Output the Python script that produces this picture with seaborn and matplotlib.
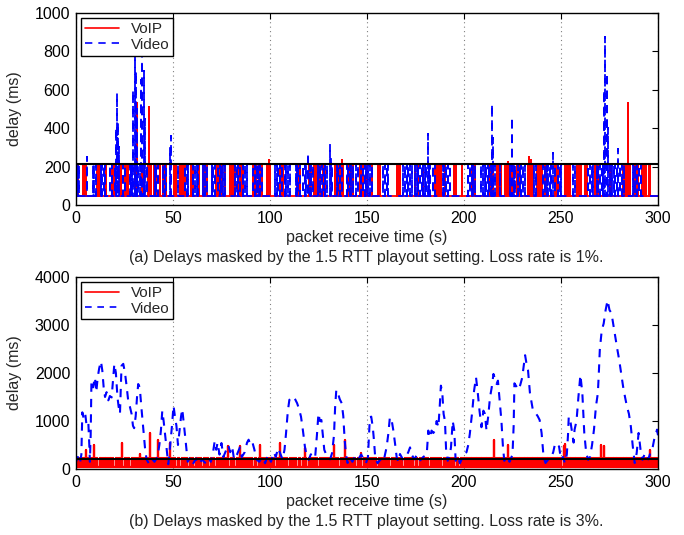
import numpy as np
import pandas as pd
import matplotlib
matplotlib.use("Agg")
import matplotlib.pyplot as plt
import seaborn as sns

# ---------------- data ----------------
time_range = [0, 300]
x_ticks = [0, 50, 100, 150, 200, 250, 300]
y_ticks_a = [0, 200, 400, 600, 800, 1000]
y_ticks_b = [0, 1000, 2000, 3000, 4000]
playout_a = 215          # 1.5 RTT playout delay (ms)
playout_b = 215
series_names = ["VoIP", "Video"]
captions = ["(a) Delays masked by the 1.5 RTT playout setting. Loss rate is 1%.",
            "(b) Delays masked by the 1.5 RTT playout setting. Loss rate is 3%."]

# (a) loss 1%: delay bursts (s) reaching ~208 ms from a ~48 ms floor
voip_a_base, voip_a_top = 48, 208
voip_a_t = [0.5, 1.1, 3.9, 4.6, 5.4, 10.8, 11.6, 12.3, 15.1, 15.7, 18.5, 19.3, 20.0,
            22.8, 23.4, 25.4, 26.2, 26.9, 30.5, 31.0, 34.0, 34.6, 37.0, 38.1, 38.5,
            40.0, 40.8, 41.5, 43.3, 45.1, 45.9, 46.6, 50.3, 51.1, 51.8, 53.7, 54.5,
            55.3, 56.1, 59.3, 60.2, 62.8, 63.6, 65.7, 66.5, 67.3, 70.3, 72.0, 72.8,
            73.6, 74.6, 75.4, 76.8, 79.5, 80.4, 81.2, 82.0, 83.8, 84.6, 85.4, 86.2,
            91.5, 92.3, 93.0, 94.1, 94.9, 95.8, 98.4, 99.2, 100.0, 105.2, 106.0,
            106.8, 113.8, 114.6, 115.4, 119.9, 120.7, 121.4, 122.5, 123.3, 124.2,
            125.0, 125.7, 127.5, 128.5, 133.6, 134.4, 135.1, 136.1, 137.0, 137.7,
            140.5, 141.3, 142.1, 142.9, 146.5, 147.3, 148.0, 149.8, 152.4, 155.8,
            156.6, 165.4, 166.2, 167.0, 174.7, 176.4, 179.0, 185.1, 185.9, 186.8,
            187.6, 188.4, 190.2, 194.6, 195.3, 196.0, 198.8, 204.1, 204.9, 205.6,
            213.4, 214.2, 215.0, 216.9, 217.7, 218.5, 219.3, 221.2, 222.0, 222.8,
            223.6, 224.5, 225.3, 227.5, 228.3, 233.1, 233.9, 234.7, 235.6, 237.6,
            238.4, 239.2, 240.0, 241.5, 242.5, 247.0, 247.8, 248.6, 252.1, 252.9,
            253.7, 254.5, 258.1, 258.9, 259.7, 260.5, 262.5, 263.3, 267.6, 268.4,
            269.2, 275.2, 276.0, 282.1, 282.9, 283.7, 285.4, 287.4, 288.2, 289.0,
            289.9, 291.7, 292.5, 293.3, 294.0, 295.2, 296.0]
voip_a_peak_t = [31.3, 37.8, 99.6, 136.9, 222.9, 233.3, 234.5, 284.7]
voip_a_peak_d = [530, 512, 234, 234, 225, 252, 234, 530]

video_a_base, video_a_top = 45, 206
video_a_t = [0.3, 1.0, 1.8, 8.9, 9.5, 10.1, 12.9, 13.6, 14.3, 14.9, 17.5, 18.4, 20.1,
             24.4, 25.2, 27.8, 28.5, 29.0, 31.8, 33.0, 36.5, 40.7, 41.5, 42.3, 45.0,
             45.8, 46.5, 52.8, 56.2, 57.0, 57.8, 60.5, 61.4, 62.3, 63.1, 65.6, 66.5,
             67.4, 69.9, 70.8, 71.6, 73.4, 74.2, 75.0, 76.0, 76.8, 82.0, 82.8, 83.7,
             84.5, 86.3, 87.1, 88.0, 91.4, 92.2, 93.1, 94.0, 94.8, 95.7, 102.6, 103.4,
             104.3, 105.2, 106.0, 107.7, 108.5, 109.4, 110.3, 113.3, 114.0, 114.7,
             115.4, 117.2, 118.0, 118.8, 120.6, 121.4, 122.3, 125.0, 125.9, 126.8,
             127.7, 128.6, 129.5, 132.2, 134.3, 135.2, 136.1, 137.0, 139.5, 140.3,
             141.1, 142.0, 143.0, 144.2, 145.4, 147.0, 147.9, 148.8, 149.7, 150.6,
             151.5, 152.4, 158.4, 159.3, 160.2, 161.0, 168.7, 169.6, 170.5, 171.3,
             172.2, 173.0, 174.7, 175.6, 176.4, 177.3, 178.2, 179.0, 179.9, 180.6,
             182.0, 182.5, 184.0, 185.0, 189.0, 189.9, 190.8, 191.7, 192.6, 202.2,
             203.1, 204.0, 204.8, 205.7, 209.0, 209.8, 210.6, 211.4, 212.2, 213.0,
             213.8, 215.8, 218.5, 223.7, 225.6, 226.3, 228.0, 228.8, 229.6, 230.5,
             231.4, 236.0, 237.0, 240.9, 241.8, 242.6, 243.5, 244.3, 245.0, 247.0,
             248.5, 249.4, 250.2, 256.0, 257.0, 264.0, 264.9, 265.8, 266.7, 268.4,
             269.2, 270.0, 270.9, 271.6, 275.3, 276.2, 277.1, 278.0, 278.8, 280.4,
             281.5, 282.5, 287.3, 288.1, 289.0, 290.0, 291.0]
video_a_peak_t = [5.5, 20.6, 21.0, 21.5, 22.3, 29.5, 30.2, 30.8, 31.3, 33.5, 34.2, 34.9,
                  35.6, 48.6, 49.2, 119.8, 130.9, 131.5, 181.3, 214.6, 215.1, 224.5,
                  225.0, 246.0, 272.3, 272.9, 273.5, 274.1, 279.5]
video_a_peak_d = [250, 400, 582, 430, 300, 600, 790, 700, 500, 650, 790, 700,
                  450, 300, 360, 270, 320, 250, 370, 524, 350, 460,
                  360, 269, 600, 873, 690, 400, 290]

# (b) loss 3%: VoIP bursts are nearly continuous
voip_b_base, voip_b_top = 40, 220
voip_b_t = [0.3, 1.1, 1.8, 2.6, 3.5, 4.2, 5.6, 6.3, 7.1, 8.4, 9.5, 10.3, 11.0, 12.2,
            13.1, 13.8, 14.9, 15.7, 16.4, 17.6, 18.3, 19.2, 20.5, 21.3, 22.0, 22.8,
            23.9, 25.1, 26.0, 26.8, 27.5, 28.7, 29.6, 30.4, 31.3, 32.5, 33.6, 34.3,
            35.2, 36.1, 37.0, 38.0, 39.4, 40.2, 41.1, 42.0, 43.5, 44.3, 45.2, 46.4,
            47.3, 48.1, 49.6, 50.5, 51.2, 52.4, 53.1, 54.6, 55.5, 56.2, 57.4, 58.7,
            59.5, 60.3, 61.8, 62.6, 63.4, 64.5, 65.8, 66.6, 67.5, 68.3, 69.6, 70.4,
            71.3, 72.8, 73.6, 74.9, 75.7, 76.5, 77.6, 78.5, 79.8, 80.6, 81.5, 82.9,
            83.7, 84.6, 85.8, 86.5, 87.7, 88.6, 89.9, 91.0, 92.2, 93.0, 94.1, 95.3,
            96.2, 97.4, 98.5, 99.3, 100.6, 101.5, 102.3, 103.8, 104.6, 105.5, 106.7,
            107.8, 108.9, 110.2, 111.4, 112.5, 113.6, 114.8, 115.7, 116.9, 117.8,
            118.7, 119.9, 121.2, 122.0, 123.3, 124.5, 125.6, 126.8, 127.7, 128.9,
            130.1, 131.0, 132.2, 132.9, 134.1, 135.2, 136.4, 137.5, 138.6, 139.5,
            140.8, 141.7, 142.9, 144.0, 145.3, 146.2, 147.1, 148.4, 149.6, 150.5,
            151.7, 152.6, 153.8, 154.9, 156.1, 157.2, 158.3, 159.5, 160.4, 161.6,
            162.7, 163.9, 165.0, 166.2, 167.1, 168.3, 169.4, 170.6, 171.5, 172.8,
            173.9, 175.1, 176.0, 177.2, 178.4, 179.3, 180.5, 181.7, 182.8, 183.9,
            185.1, 186.0, 187.2, 188.4, 189.5, 190.6, 191.8, 192.7, 193.9, 195.0,
            196.2, 197.1, 198.3, 199.2, 200.1, 200.9, 201.8, 202.6, 203.5, 204.3,
            205.2, 206.0, 206.9, 207.7, 208.6, 209.4, 210.3, 211.1, 212.0, 212.8,
            213.7, 214.5, 216.2, 217.1, 217.9, 218.8, 219.6, 220.5, 221.3, 222.2,
            223.9, 224.7, 225.6, 226.4, 227.3, 228.1, 229.0, 229.8, 230.7, 231.5,
            232.4, 233.2, 234.1, 234.9, 235.8, 236.6, 237.5, 238.3, 239.2, 240.0,
            240.9, 241.7, 242.6, 243.4, 244.3, 245.1, 246.0, 246.8, 247.7, 248.5,
            249.4, 250.2, 252.8, 253.6, 254.5, 255.3, 256.2, 257.0, 257.9, 258.7,
            259.6, 260.4, 261.3, 262.1, 263.0, 263.8, 264.7, 265.5, 266.4, 267.2,
            268.1, 268.9, 269.8, 271.5, 273.2, 274.0, 274.9, 275.7, 276.6, 277.4,
            278.3, 279.1, 280.0, 280.8, 281.7, 282.5, 283.4, 284.2, 285.1, 285.9,
            286.8, 287.6, 288.5, 289.3, 290.2, 291.0, 291.9, 292.7, 293.6, 294.4,
            295.3, 296.1, 297.0, 297.8, 298.7, 299.5]
voip_b_peak_t = [5.0, 9.1, 24.0, 33.0, 38.3, 42.2, 48.3, 78.4, 84.5, 94.8, 105.0, 118.0,
                 132.8, 138.8, 147.0, 215.5, 222.8, 251.4, 252.0, 270.7, 272.4, 295.7]
voip_b_peak_d = [400, 500, 540, 310, 750, 600, 540, 480, 470, 500, 540, 430,
                 500, 600, 330, 610, 500, 480, 520, 500, 480, 400]

video_b_t = [0, 1, 2, 2.8, 3.3, 4, 4.8, 5.5, 6.4, 7, 7.2, 7.6, 8, 8.8, 9.8, 10.5, 11.2,
             12, 12.9, 13.6, 14.3, 15, 15.8, 16.7, 17.5, 18.4, 19.2, 19.8, 20.6, 21.4,
             22, 22.7, 23.5, 24.4, 25.3, 26.2, 27, 27.8, 28.7, 29.4, 30, 30.8, 31.5,
             32.1, 32.9, 33.7, 34.6, 35.6, 36.4, 37.5, 39, 40.5, 42, 43, 43.8, 44.5,
             45.2, 46, 46.8, 47.6, 48.6, 49.5, 50.3, 51, 51.8, 52.6, 53.4, 54.2, 54.8,
             55.6, 56.5, 57.6, 59, 60.5, 62, 63.5, 65, 66.5, 68, 69.5, 70.5, 71.5, 72.3,
             73, 74, 75, 76, 77.5, 78.5, 79.5, 80.5, 81.5, 83, 84.5, 85.5, 87, 88.2, 89,
             90, 91, 92, 93, 94.5, 96, 97.5, 99, 100.5, 102, 103, 104.2, 105.5, 106.5,
             107.5, 108.3, 109.2, 110, 111, 112, 113, 114, 115, 116, 117, 118, 119, 120,
             121, 122, 123.3, 124.2, 125, 125.7, 126.5, 127.3, 128, 129, 130, 131, 132,
             133, 133.6, 134.2, 135, 136, 137, 137.8, 138.5, 139.2, 140, 141, 142.5,
             144, 145.5, 147, 148.5, 149.5, 150.5, 151.5, 152.2, 153, 153.6, 154.3,
             155.5, 157, 158.5, 160.1, 161, 161.8, 162.6, 163.6, 164.5, 165.3, 166.1,
             167, 168.5, 170, 171.3, 172.2, 173, 174.5, 175.5, 176.4, 177.5, 179,
             180.8, 181.6, 182.5, 183.3, 184.2, 185.1, 185.9, 186.8, 187.5, 188.1,
             188.8, 189.5, 190.2, 190.8, 191.6, 192.5, 193.3, 194.2, 195, 195.7, 197,
             197.9, 199, 199.6, 201.3, 202.2, 203, 204.3, 205.2, 206.2, 207, 208, 209,
             210, 210.8, 211.6, 212.5, 213.4, 214.3, 215.2, 216.2, 216.8, 217.5, 218.4,
             219.3, 220.1, 220.8, 222, 223.5, 225, 225.6, 226, 227, 228, 229, 230,
             231.5, 232.2, 233, 234, 235.5, 236.3, 237, 238, 239, 240, 241, 242, 243.5,
             245, 246, 247, 248, 249, 250, 251, 252, 253, 253.6, 254, 255, 256.5, 257,
             258, 259, 260, 261, 262, 263, 264, 265, 266, 267, 268, 269, 269.5, 270,
             271, 272, 273, 274, 275, 276, 277, 278, 279, 280, 281, 282, 283, 284, 285,
             286, 287, 288, 289, 290, 291, 292, 293, 294, 295, 296, 297, 298, 299.5, 300]
video_b_d = [150, 250, 100, 300, 1180, 1050, 1150, 900, 960, 400, 150, 700, 1840, 1700,
             1910, 1600, 1900, 2100, 2243, 2050, 1700, 1500, 1600, 1430, 1520, 1490,
             1900, 2190, 2000, 1500, 1300, 1150, 2150, 2190, 2000, 1700, 1400, 1300,
             1146, 900, 850, 1100, 1500, 1770, 1700, 1300, 900, 440, 200, 120, 220, 150,
             250, 500, 800, 1210, 1000, 700, 400, 100, 500, 900, 1320, 1100, 900, 500,
             800, 1100, 1250, 950, 600, 150, 250, 120, 220, 100, 200, 130, 250, 150,
             300, 575, 400, 550, 300, 540, 250, 400, 500, 350, 470, 200, 300, 450, 250,
             350, 550, 610, 500, 550, 400, 200, 150, 250, 120, 300, 150, 350, 250, 436,
             300, 200, 400, 750, 1200, 1440, 1480, 1510, 1450, 1370, 1250, 1090, 800,
             470, 250, 190, 300, 330, 250, 700, 1160, 1000, 1020, 700, 400, 300, 260,
             200, 330, 700, 1300, 1650, 1580, 1450, 1370, 1100, 610, 300, 125, 250, 150,
             280, 200, 300, 200, 120, 250, 1076, 1090, 870, 600, 210, 120, 200, 150,
             450, 730, 1076, 1050, 800, 520, 250, 150, 312, 200, 250, 350, 450, 300,
             200, 280, 312, 180, 250, 300, 800, 650, 800, 750, 800, 1000, 870, 1300,
             1736, 1600, 1146, 1000, 380, 170, 250, 450, 1000, 800, 170, 250, 120, 220,
             300, 350, 500, 730, 1215, 1630, 1910, 1630, 1215, 870, 1215, 1150, 800,
             1100, 1490, 1700, 1980, 1850, 1770, 1840, 1430, 1000, 450, 170, 250, 150,
             300, 900, 1785, 1720, 1650, 1750, 1900, 2370, 2200, 2060, 1580, 1230, 1200,
             1160, 1100, 1020, 750, 260, 125, 200, 250, 350, 540, 500, 470, 190, 250,
             125, 300, 700, 1090, 955, 550, 820, 1000, 1510, 1960, 1580, 750, 330, 190,
             260, 500, 820, 1300, 1580, 2000, 2480, 2890, 3030, 3310, 3515, 3310, 3250,
             3000, 2750, 2500, 2270, 2000, 1720, 1500, 1300, 1150, 885, 470, 125, 330,
             750, 400, 190, 300, 330, 200, 330, 400, 610, 820, 700]


def bursts(times, peak_t, peak_d, base, top):
    """Turn burst times into a line that rises from the floor and returns."""
    t = list(times) + list(peak_t)
    d = [top] * len(times) + list(peak_d)
    order = np.argsort(t, kind="stable")
    xs, ys = [time_range[0]], [base]
    for i in order:
        xs += [t[i], t[i], t[i]]
        ys += [base, d[i], base]
    xs.append(time_range[1])
    ys.append(base)
    return pd.DataFrame({"t": xs, "d": ys})


df_voip_a = bursts(voip_a_t, voip_a_peak_t, voip_a_peak_d, voip_a_base, voip_a_top)
df_video_a = bursts(video_a_t, video_a_peak_t, video_a_peak_d, video_a_base, video_a_top)
df_voip_b = bursts(voip_b_t, voip_b_peak_t, voip_b_peak_d, voip_b_base, voip_b_top)
df_video_b = pd.DataFrame({"t": video_b_t, "d": video_b_d})

# ---------------- style ----------------
sns.set_theme(style="white")
plt.rcParams["font.family"] = ["Liberation Sans", "DejaVu Sans"]
FS = 11.5

fig = plt.figure(figsize=(6.84, 5.35), dpi=100)
ax1 = fig.add_axes([0.111, 0.6168, 0.851, 0.3589])
ax2 = fig.add_axes([0.111, 0.1234, 0.851, 0.3589])

RED = "#ff0000"
BLUE = "#0000ff"

panels = [
    (ax1, df_voip_a, df_video_a, y_ticks_a, playout_a, captions[0], 0.5196,
     1.3, 1.3, (0, (4.4, 3.6))),
    (ax2, df_voip_b, df_video_b, y_ticks_b, playout_b, captions[1], 0.0243,
     1.6, 1.5, (0, (4.0, 3.4))),
]

for ax, dv, dvid, yt, pl, cap, cap_y, lw_r, lw_b, dash in panels:
    sns.lineplot(data=dv, x="t", y="d", ax=ax, color=RED, lw=lw_r, sort=False,
                 estimator=None, label=series_names[0])
    sns.lineplot(data=dvid, x="t", y="d", ax=ax, color=BLUE, lw=lw_b, sort=False,
                 estimator=None, linestyle=dash, label=series_names[1])
    ax.axhline(pl, color="black", lw=1.5, zorder=5)
    ax.set_xlim(time_range[0], time_range[1])
    ax.set_ylim(yt[0], yt[-1])
    ax.set_xticks(x_ticks)
    ax.set_yticks(yt)
    ax.tick_params(direction="in", top=True, right=True, length=4, width=0.8,
                   labelsize=FS, colors="black", pad=4)
    for s in ax.spines.values():
        s.set_color("black")
        s.set_linewidth(1.0)
    ax.xaxis.grid(True, linestyle=(0, (1, 3)), color="#808080", lw=0.8)
    ax.yaxis.grid(False)
    ax.set_axisbelow(True)
    ax.set_xlabel("packet receive time (s)", fontsize=FS, labelpad=3)
    ax.set_ylabel("delay (ms)", fontsize=FS)
    ax.yaxis.set_label_coords(-0.093, 0.5)
    leg = ax.legend(loc="upper left", fancybox=False, edgecolor="black", framealpha=1,
                    fontsize=11, handlelength=2.2, borderaxespad=0.35, borderpad=0.25,
                    labelspacing=0.1, handletextpad=0.8)
    for h in leg.get_lines():
        h.set_linewidth(1.2)
    leg.get_frame().set_linewidth(1.0)
    leg.set_zorder(10)
    fig.text(0.536, cap_y, cap, ha="center", va="center", fontsize=FS)

fig.savefig("out.png", dpi=100)
